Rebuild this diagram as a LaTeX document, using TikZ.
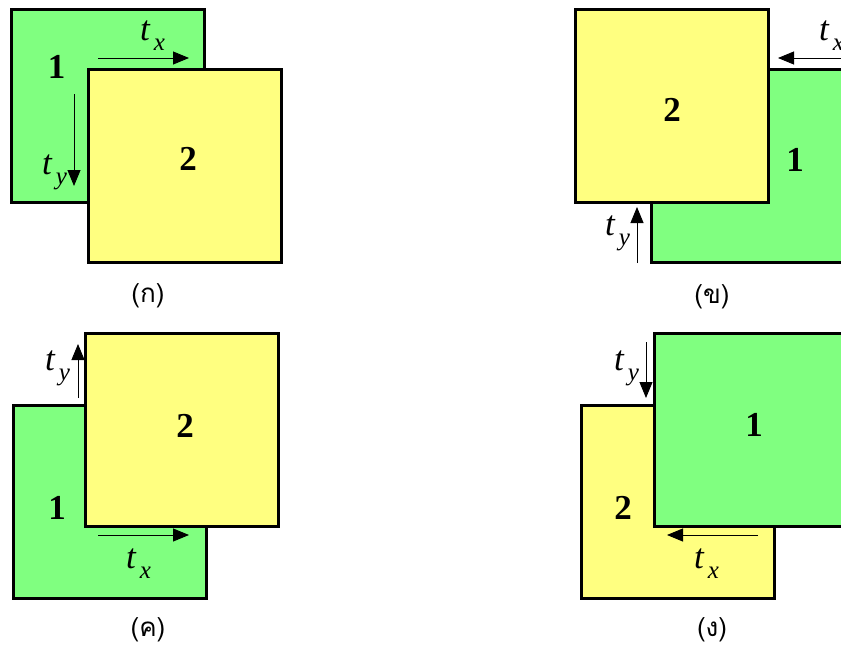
\documentclass[tikz,border=0pt]{standalone}
\usepackage{fontspec}
\setmainfont{Liberation Serif}
\newfontfamily\thaifont[Script=Thai]{Loma}
\usetikzlibrary{arrows.meta}
\definecolor{sqgreen}{HTML}{80FF80}
\definecolor{sqyellow}{HTML}{FFFF80}
\newcommand{\tsub}[1]{{\fontsize{35}{35}\selectfont\itshape t}\kern4pt\raisebox{-10pt}{\fontsize{25}{25}\selectfont\itshape #1}}

\begin{document}
\begin{tikzpicture}[x=1pt,y=-1pt,>={Triangle[length=16pt,width=13pt]},
    sq/.style={draw=black, line width=3pt, minimum size=193pt, inner sep=0pt},
    num/.style={font=\fontsize{35}{35}\selectfont\bfseries, inner sep=0pt},
    tlbl/.style={anchor=base west, inner sep=0pt},
    shiftarr/.style={draw=black, line width=0.9pt, ->},
    subcap/.style={font=\fontsize{26}{30}\selectfont\thaifont}]
  \useasboundingbox (0,0) rectangle (841,648);
  \clip (0,0) rectangle (841,648);
  % ---------- (a) ----------
  \node[sq, fill=sqgreen]  (sqA1) at (108,105.5) {};
  \node[sq, fill=sqyellow] (sqA2) at (184.5,165.5) {};
  \node[num] (nA1) at (56.5,66.5) {1};
  \node[num] (nA2) at (188,159) {2};
  \coordinate (axs) at (98,58);  \coordinate (axe) at (189,58);
  \coordinate (ays) at (74,94);  \coordinate (aye) at (74,186);
  \draw[shiftarr] (axs) -- (axe);
  \draw[shiftarr] (ays) -- (aye);
  \node[tlbl] (tA1) at (140,40) {\tsub{x}};
  \node[tlbl] (tA2) at (42,174) {\tsub{y}};
  \node[subcap] (capA) at (148,296) {(ก)};
  % ---------- (b) ----------
  \node[sq, fill=sqgreen]  (sqB1) at (747.5,165.5) {};
  \node[sq, fill=sqyellow] (sqB2) at (671.5,106) {};
  \node[num] (nB1) at (795,160) {1};
  \node[num] (nB2) at (672,110) {2};
  \coordinate (bxs) at (860,58); \coordinate (bxe) at (778,58);
  \coordinate (bys) at (637,263); \coordinate (bye) at (637,207);
  \draw[shiftarr] (bxs) -- (bxe);
  \draw[shiftarr] (bys) -- (bye);
  \node[tlbl] (tB1) at (819,40) {\tsub{x}};
  \node[tlbl] (tB2) at (605,235) {\tsub{y}};
  \node[subcap] (capB) at (712,297) {(ข)};
  % ---------- (c) ----------
  \node[sq, fill=sqgreen]  (sqC1) at (109.5,501.5) {};
  \node[sq, fill=sqyellow] (sqC2) at (182,429.5) {};
  \node[num] (nC1) at (57,508) {1};
  \node[num] (nC2) at (185,426) {2};
  \coordinate (cxs) at (98,535);  \coordinate (cxe) at (189,535);
  \coordinate (cys) at (78,398);  \coordinate (cye) at (78,344);
  \draw[shiftarr] (cxs) -- (cxe);
  \draw[shiftarr] (cys) -- (cye);
  \node[tlbl] (tC1) at (126,568) {\tsub{x}};
  \node[tlbl] (tC2) at (45,370) {\tsub{y}};
  \node[subcap] (capC) at (148,630) {(ค)};
  % ---------- (d) ----------
  \node[sq, fill=sqyellow] (sqD2) at (677.5,501.5) {};
  \node[sq, fill=sqgreen]  (sqD1) at (750.5,429.5) {};
  \node[num] (nD1) at (754,425) {1};
  \node[num] (nD2) at (623,508) {2};
  \coordinate (dxs) at (758,535); \coordinate (dxe) at (667,535);
  \coordinate (dys) at (646,342); \coordinate (dye) at (646,398);
  \draw[shiftarr] (dxs) -- (dxe);
  \draw[shiftarr] (dys) -- (dye);
  \node[tlbl] (tD1) at (694,568) {\tsub{x}};
  \node[tlbl] (tD2) at (614,370) {\tsub{y}};
  \node[subcap] (capD) at (712,630) {(ง)};
\end{tikzpicture}
\end{document}
